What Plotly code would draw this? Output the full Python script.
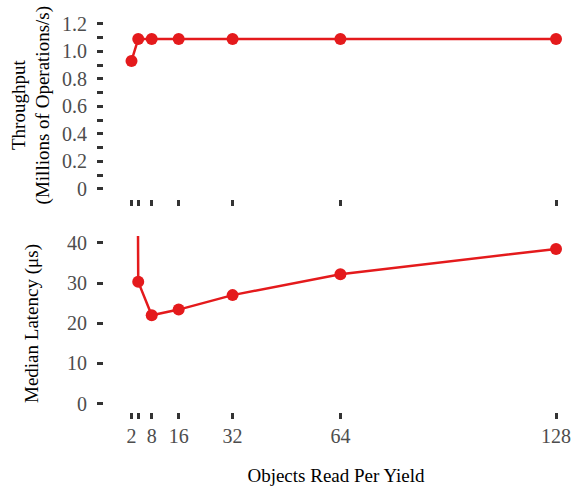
import plotly.graph_objects as go
from plotly.subplots import make_subplots

objects_per_yield = [2, 4, 8, 16, 32, 64, 128]
throughput_mops = [0.93, 1.09, 1.09, 1.09, 1.09, 1.09, 1.09]
median_latency_us = [400, 30.3, 22.0, 23.4, 27.0, 32.2, 38.5]

x_tickvals = [2, 4, 8, 16, 32, 64, 128]
x_ticktext = ["2", "", "8", "16", "32", "64", "128"]
tp_tickvals = [0, 0.1, 0.2, 0.3, 0.4, 0.5, 0.6, 0.7, 0.8, 0.9, 1.0, 1.1, 1.2]
tp_ticktext = ["0", "", "0.2", "", "0.4", "", "0.6", "", "0.8", "", "1.0", "", "1.2"]
lat_tickvals = [0, 10, 20, 30, 40]

RED = "#e41a1c"
FONT = "Liberation Serif"
TICKC = "#4d4d4d"
TITLE_FONT = dict(family=FONT, size=19, color="black")

fig = make_subplots(rows=2, cols=1, shared_xaxes=False, vertical_spacing=0.0)

fig.add_trace(go.Scatter(x=objects_per_yield, y=throughput_mops, mode="lines+markers",
                         line=dict(color=RED, width=2.5), marker=dict(color=RED, size=12),
                         showlegend=False), row=1, col=1)
fig.add_trace(go.Scatter(x=objects_per_yield, y=median_latency_us, mode="lines+markers",
                         line=dict(color=RED, width=2.5), marker=dict(color=RED, size=12),
                         showlegend=False), row=2, col=1)

xr = [-6.16, 131.55]
common_x = dict(range=xr, showgrid=False, zeroline=False, showline=False,
                ticks="outside", ticklen=6, tickwidth=2.5, tickcolor="#333333",
                tickvals=x_tickvals, tickfont=dict(family=FONT, size=20, color=TICKC))
fig.update_xaxes(**common_x, ticktext=[""] * len(x_tickvals), domain=[0, 1], row=1, col=1)
fig.update_xaxes(**common_x, ticktext=x_ticktext, domain=[0, 1], row=2, col=1,
                 title=dict(text="Objects Read Per Yield", font=TITLE_FONT, standoff=22))

common_y = dict(showgrid=False, zeroline=False, showline=False, ticks="outside", ticklen=6,
                tickwidth=2.5, tickcolor="#333333", ticklabelstandoff=6,
                tickfont=dict(family=FONT, size=20, color=TICKC))
fig.update_yaxes(**common_y, range=[-0.0714, 1.286], tickvals=tp_tickvals, ticktext=tp_ticktext,
                 domain=[0.533, 1.0], row=1, col=1)
fig.update_yaxes(**common_y, range=[-2.08, 41.71], tickvals=lat_tickvals,
                 domain=[0.0, 0.44], row=2, col=1)

fig.add_annotation(text="Throughput<br>(Millions of Operations/s)", font=TITLE_FONT,
                   xref="paper", yref="paper", x=0, y=(0.533 + 1.0) / 2,
                   xanchor="center", yanchor="middle", xshift=-73, textangle=-90,
                   showarrow=False)
fig.add_annotation(text="Median Latency (μs)", font=TITLE_FONT,
                   xref="paper", yref="paper", x=0, y=0.22,
                   xanchor="center", yanchor="middle", xshift=-72, textangle=-90,
                   showarrow=False)

fig.update_layout(width=577, height=488, margin=dict(l=104, r=6, t=12, b=69),
                  plot_bgcolor="white", paper_bgcolor="white")

fig.write_html("out.html")
